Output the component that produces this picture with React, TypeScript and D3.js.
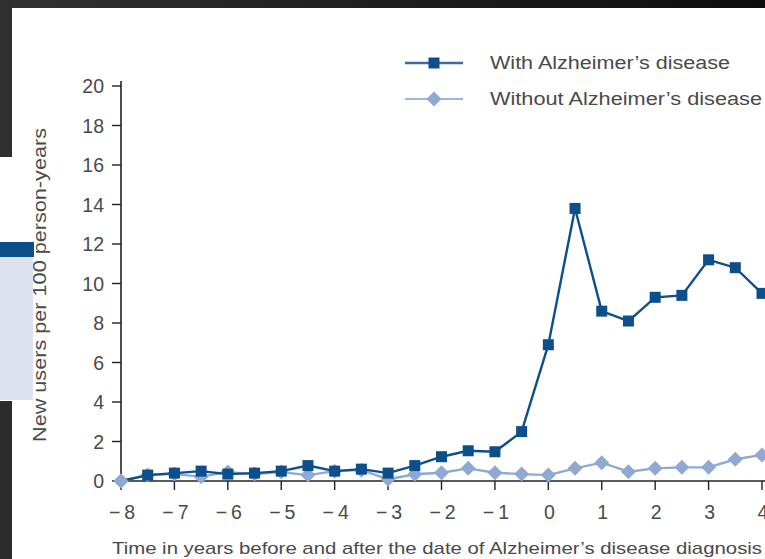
import React from "react";
import * as d3 from "d3";

const years = [-8, -7.5, -7, -6.5, -6, -5.5, -5, -4.5, -4, -3.5, -3, -2.5, -2, -1.5, -1, -0.5, 0, 0.5, 1, 1.5, 2, 2.5, 3, 3.5, 4];
const withAD = [0, 0.3, 0.4, 0.5, 0.35, 0.4, 0.5, 0.78, 0.5, 0.6, 0.4, 0.78, 1.23, 1.53, 1.48, 2.5, 6.9, 13.8, 8.6, 8.1, 9.3, 9.4, 11.2, 10.8, 9.5];
const withoutAD = [0, 0.3, 0.35, 0.22, 0.45, 0.35, 0.45, 0.3, 0.5, 0.55, 0.09, 0.34, 0.42, 0.64, 0.42, 0.35, 0.3, 0.64, 0.93, 0.47, 0.64, 0.69, 0.69, 1.1, 1.32];
const xTicks = [-8, -7, -6, -5, -4, -3, -2, -1, 0, 1, 2, 3, 4];
const yTicks = [0, 2, 4, 6, 8, 10, 12, 14, 16, 18, 20];
const seriesNames = ["With Alzheimer\u2019s disease", "Without Alzheimer\u2019s disease"];
const xTitle = "Time in years before and after the date of Alzheimer\u2019s disease diagnosis";
const yTitle = "New users per 100 person-years";

const W = 765;
const H = 559;
const DARK = "#0c4f8a";
const LIGHT = "#8eaad3";
const TXT = "#4a4a4a";
const FONT = "'Liberation Sans', Arial, sans-serif";

export default function App() {
  const x = d3.scaleLinear().domain([-8, 4]).range([121, 762]);
  const y = d3.scaleLinear().domain([0, 20]).range([481, 86]);
  const line = d3
    .line<[number, number]>()
    .x((d) => x(d[0]))
    .y((d) => y(d[1]));
  const dA: [number, number][] = years.map((t, i) => [t, withAD[i]]);
  const dB: [number, number][] = years.map((t, i) => [t, withoutAD[i]]);
  const sq = 11;
  const dm = 7.5;
  const diamond = (cx: number, cy: number) =>
    `M${cx},${cy - dm}L${cx + dm},${cy}L${cx},${cy + dm}L${cx - dm},${cy}Z`;

  return (
    <svg width={W} height={H} style={{ position: "absolute", left: 0, top: 0, background: "#fff" }} fontFamily={FONT}>
      <defs>
        <linearGradient id="topband" x1="0" x2="1" y1="0" y2="0">
          <stop offset="0" stopColor="#313131" />
          <stop offset="1" stopColor="#0d0d0d" />
        </linearGradient>
      </defs>
      <rect x={0} y={0} width={W} height={H} fill="#fff" />

      {/* axes */}
      <line x1={x(-8)} x2={x(-8)} y1={y(20) - 5} y2={y(0)} stroke="#222" strokeWidth={1.6} />
      <line x1={x(-8)} x2={W} y1={y(0)} y2={y(0)} stroke="#222" strokeWidth={1.6} />
      {yTicks.map((t) => (
        <g key={"y" + t}>
          <line x1={x(-8) - 9} x2={x(-8)} y1={y(t)} y2={y(t)} stroke="#222" strokeWidth={1.4} />
          <text x={104} y={y(t)} dy="0.36em" textAnchor="end" fontSize={19.5} fill={TXT}>
            {t}
          </text>
        </g>
      ))}
      {xTicks.map((t) => (
        <g key={"x" + t}>
          <line x1={x(t)} x2={x(t)} y1={y(0)} y2={y(0) + 9} stroke="#222" strokeWidth={1.4} />
          <text x={x(t) + 1} y={512} dy="0.36em" textAnchor="middle" fontSize={19.5} fill={TXT}>
            {t < 0 ? "\u2212\u2009" + Math.abs(t) : String(t)}
          </text>
        </g>
      ))}
      <text x={112} y={548} dy="0.35em" fontSize={17} fill={TXT} textLength={650} lengthAdjust="spacingAndGlyphs">
        {xTitle}
      </text>
      <text
        transform={`translate(40,285) rotate(-90)`}
        textAnchor="middle"
        dy="0.35em"
        fontSize={18}
        fill={TXT}
        textLength={314}
        lengthAdjust="spacingAndGlyphs"
      >
        {yTitle}
      </text>

      {/* series */}
      <path d={line(dB) || ""} fill="none" stroke={LIGHT} strokeWidth={2.4} />
      {dB.map((d, i) => (
        <path key={"b" + i} d={diamond(x(d[0]), y(d[1]))} fill={LIGHT} />
      ))}
      <path d={line(dA) || ""} fill="none" stroke={DARK} strokeWidth={2.4} />
      {dA.slice(1).map((d, i) => (
        <rect key={"a" + i} x={x(d[0]) - sq / 2} y={y(d[1]) - sq / 2} width={sq} height={sq} fill={DARK} />
      ))}
      <path d={diamond(x(dB[0][0]), y(dB[0][1]))} fill={LIGHT} />

      {/* legend */}
      <line x1={405} x2={463} y1={63} y2={63} stroke="#3f6a9e" strokeWidth={2.6} />
      <rect x={434 - sq / 2} y={63 - sq / 2} width={sq} height={sq} fill={DARK} />
      <text x={490} y={63} dy="0.35em" fontSize={18} fill={TXT} textLength={240} lengthAdjust="spacingAndGlyphs">
        {seriesNames[0]}
      </text>
      <line x1={405} x2={463} y1={99} y2={99} stroke="#9fb6d8" strokeWidth={2} />
      <path d={diamond(434, 99)} fill={LIGHT} />
      <text x={490} y={99} dy="0.35em" fontSize={18} fill={TXT} textLength={272} lengthAdjust="spacingAndGlyphs">
        {seriesNames[1]}
      </text>

      {/* screenshot frame */}
      <rect x={0} y={0} width={W} height={8} fill="url(#topband)" />
      <rect x={0} y={0} width={12} height={157} fill="#2f2f2f" />
      <rect x={0} y={401} width={12} height={H - 401} fill="#2c2c2c" />
      <rect x={0} y={242} width={34} height={15} fill="#0a4f8a" />
      <rect x={0} y={257} width={33} height={143} fill="#dde2ee" />
    </svg>
  );
}
